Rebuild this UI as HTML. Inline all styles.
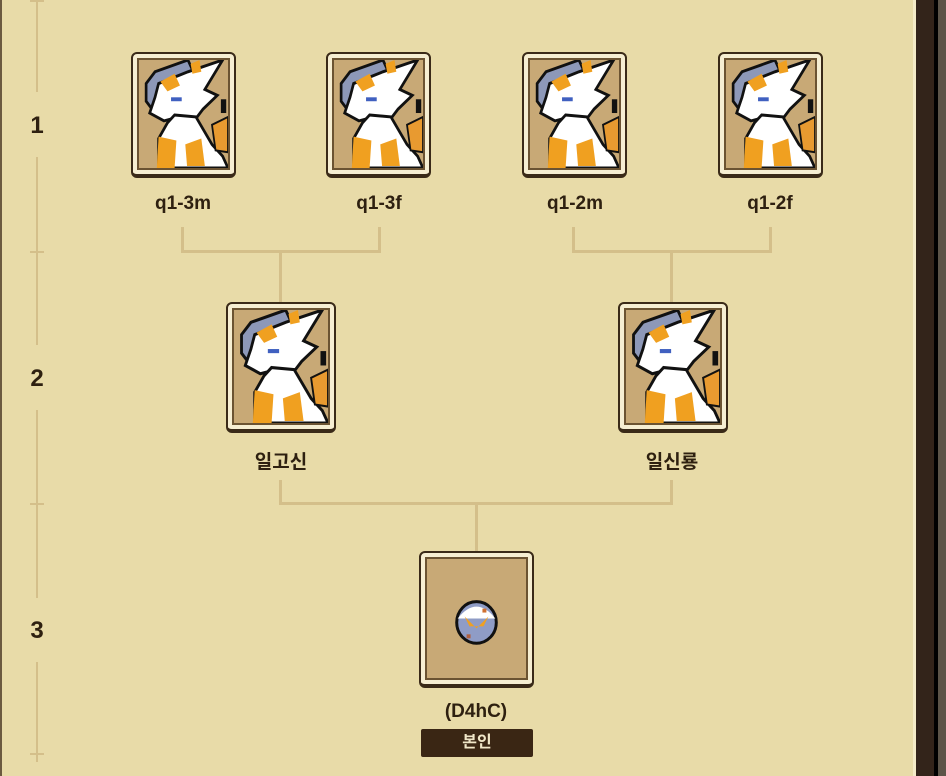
<!DOCTYPE html>
<html><head><meta charset="utf-8"><style>
*{margin:0;padding:0;box-sizing:border-box}
body{width:946px;height:776px;background:#e8dba8;position:relative;overflow:hidden;font-family:"Liberation Sans","Noto Sans CJK KR",sans-serif}
.rb{position:absolute;top:0;height:776px}
.card{position:absolute;border:2px solid #3a2a18;border-bottom-width:4px;border-radius:6px;background:#f6eed2;padding:4px}
.card .in{width:100%;height:100%;border:2px solid #6b5332;background:#c8a976;overflow:hidden;position:relative}
.card svg{position:absolute;left:0;top:0;width:100%;height:100%}
.lbl{position:absolute;font-weight:bold;font-size:19px;color:#2e2010;text-align:center;width:140px}
.ln{position:absolute;background:#d4bf8a}
.num{position:absolute;left:27px;width:20px;text-align:center;font-weight:bold;font-size:24px;color:#2e2010}
</style></head><body>
<svg width="0" height="0" style="position:absolute"><defs>
<symbol id="dr" viewBox="0 0 100 110" preserveAspectRatio="none">
<path d="M18 12 L55 0 L62 14 L40 22 L30 42 L18 54 L8 42 L8 24Z" fill="#8d98b8" stroke="#111" stroke-width="3"/>
<path d="M22 24 L55 12 L94 0 L74 30 L88 36 L72 50 L62 62 L45 58 L28 62 L12 54 L18 38Z" fill="#fff" stroke="#111" stroke-width="3"/>
<path d="M40 56 L64 58 L82 86 L94 98 L100 110 L22 110 L22 80 L32 64Z" fill="#fff" stroke="#111" stroke-width="3"/>
<path d="M22 78 L42 82 L40 110 L20 110Z" fill="#f0a020"/>
<path d="M52 86 L70 80 L74 108 L54 108Z" fill="#f0a020"/>
<path d="M82 66 L100 58 L100 94 L86 92Z" fill="#e89a30" stroke="#111" stroke-width="2"/>
<path d="M24 22 L40 14 L46 26 L32 32Z" fill="#f0a020"/>
<path d="M58 4 L68 0 L70 12 L60 14Z" fill="#f0a020"/>
<rect x="36" y="38" width="12" height="4" fill="#4060c0"/>
<rect x="92" y="40" width="6" height="14" fill="#111"/>
</symbol></defs></svg>

<div class="rb" style="left:913px;width:3px;background:#f4ebc8"></div>
<div class="rb" style="left:916px;width:18px;background:#33241a"></div>
<div class="rb" style="left:934px;width:4px;background:#000"></div>
<div class="rb" style="left:938px;width:8px;background:#5c5448"></div>
<div class="rb" style="left:0;width:2px;background:#6b5a40"></div>

<div class="ln" style="left:36px;top:0;width:2px;height:92px"></div>
<div class="ln" style="left:36px;top:157px;width:2px;height:188px"></div>
<div class="ln" style="left:36px;top:410px;width:2px;height:188px"></div>
<div class="ln" style="left:36px;top:662px;width:2px;height:100px"></div>
<div class="ln" style="left:30px;top:0;width:14px;height:2px"></div>
<div class="ln" style="left:30px;top:251px;width:14px;height:2px"></div>
<div class="ln" style="left:30px;top:503px;width:14px;height:2px"></div>
<div class="ln" style="left:30px;top:753px;width:14px;height:2px"></div>
<div class="num" style="top:112px">1</div>
<div class="num" style="top:365px">2</div>
<div class="num" style="top:617px">3</div>

<div class="ln" style="left:181px;top:227px;width:3px;height:26px"></div>
<div class="ln" style="left:378px;top:227px;width:3px;height:26px"></div>
<div class="ln" style="left:181px;top:250px;width:200px;height:3px"></div>
<div class="ln" style="left:279px;top:250px;width:3px;height:52px"></div>
<div class="ln" style="left:572px;top:227px;width:3px;height:26px"></div>
<div class="ln" style="left:769px;top:227px;width:3px;height:26px"></div>
<div class="ln" style="left:572px;top:250px;width:200px;height:3px"></div>
<div class="ln" style="left:670px;top:250px;width:3px;height:52px"></div>
<div class="ln" style="left:279px;top:480px;width:3px;height:25px"></div>
<div class="ln" style="left:670px;top:480px;width:3px;height:25px"></div>
<div class="ln" style="left:279px;top:502px;width:394px;height:3px"></div>
<div class="ln" style="left:475px;top:502px;width:3px;height:50px"></div>

<div class="card" style="left:131px;top:52px;width:105px;height:126px"><div class="in"><svg><use href="#dr"/></svg></div></div>
<div class="card" style="left:326px;top:52px;width:105px;height:126px"><div class="in"><svg><use href="#dr"/></svg></div></div>
<div class="card" style="left:522px;top:52px;width:105px;height:126px"><div class="in"><svg><use href="#dr"/></svg></div></div>
<div class="card" style="left:718px;top:52px;width:105px;height:126px"><div class="in"><svg><use href="#dr"/></svg></div></div>
<div class="lbl" style="left:113px;top:193px">q1-3m</div>
<div class="lbl" style="left:309px;top:193px">q1-3f</div>
<div class="lbl" style="left:505px;top:193px">q1-2m</div>
<div class="lbl" style="left:700px;top:193px">q1-2f</div>

<div class="card" style="left:226px;top:302px;width:110px;height:131px"><div class="in"><svg><use href="#dr"/></svg></div></div>
<div class="card" style="left:618px;top:302px;width:110px;height:131px"><div class="in"><svg><use href="#dr"/></svg></div></div>
<div class="lbl" style="left:211px;top:447px">일고신</div>
<div class="lbl" style="left:602px;top:447px">일신룡</div>

<div class="card" style="left:419px;top:551px;width:115px;height:137px"><div class="in">
<svg viewBox="0 0 100 120"><ellipse cx="50" cy="64" rx="20" ry="21" fill="#8f9cc6" stroke="#111" stroke-width="3"/>
<path d="M31 60 Q50 36 69 60 Z" fill="#fff"/><path d="M38 58 L50 70 L62 58 L57 68 L43 68Z" fill="#f0a020"/><rect x="56" y="50" width="4" height="4" fill="#d07030"/><rect x="40" y="76" width="4" height="4" fill="#b06040"/></svg></div></div>
<div class="lbl" style="left:406px;top:701px">(D4hC)</div>
<div style="position:absolute;left:421px;top:729px;width:112px;height:28px;background:#3a2614;border-radius:2px;color:#f0e6c8;font-weight:bold;font-size:16px;text-align:center;line-height:28px">본인</div>
</body></html>
